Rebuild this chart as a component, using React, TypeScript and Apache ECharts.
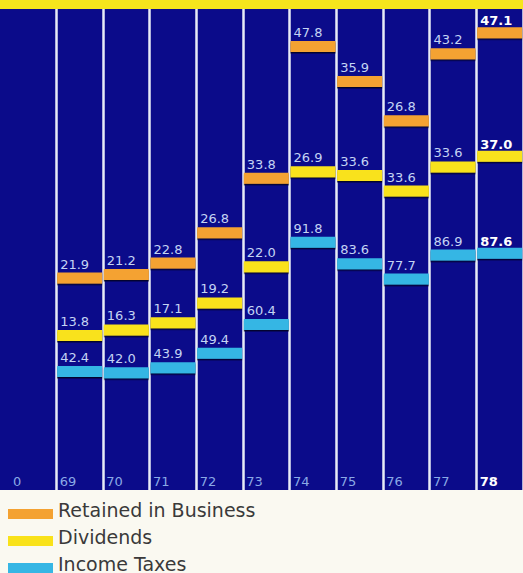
import React, { useEffect, useRef } from "react";
import * as echarts from "echarts";

const years = ["0", "69", "70", "71", "72", "73", "74", "75", "76", "77", "78"];
const incomeTaxes: (number | null)[] = [null, 42.4, 42.0, 43.9, 49.4, 60.4, 91.8, 83.6, 77.7, 86.9, 87.6];
const dividends: (number | null)[] = [null, 13.8, 16.3, 17.1, 19.2, 22.0, 26.9, 33.6, 33.6, 33.6, 37.0];
const retained: (number | null)[] = [null, 21.9, 21.2, 22.8, 26.8, 33.8, 47.8, 35.9, 26.8, 43.2, 47.1];

const seriesNames = ["Retained in Business", "Dividends", "Income Taxes"];
const colors = ["#f4a232", "#f9e21a", "#36b6e4"];

const FONT = "'DejaVu Sans', 'Liberation Sans', Arial, sans-serif";
const DARK = "#0b0b8a";

export default function App() {
  const ref = useRef<HTMLDivElement>(null);

  useEffect(() => {
    document.body.style.margin = "0";
    if (!ref.current) return;
    const chart = echarts.init(ref.current, undefined, { renderer: "svg" });

    const layers = [incomeTaxes, dividends, retained];
    const cum: (number | null)[][] = layers.map(() => []);
    years.forEach((_, i) => {
      let s = 0;
      layers.forEach((arr, k) => {
        const v = arr[i];
        if (v == null) {
          cum[k].push(null);
        } else {
          s += v;
          cum[k].push(Math.round(s * 10) / 10);
        }
      });
    });

    const last = years.length - 1;
    const makeSeries = (name: string, color: string, k: number) => ({
      name,
      type: "scatter",
      symbol: "rect",
      symbolSize: [45, 11],
      itemStyle: {
        color,
        opacity: 1,
        shadowColor: "rgba(0,0,20,0.75)",
        shadowBlur: 0,
        shadowOffsetY: 1.5,
      },
      label: {
        show: true,
        position: [3, -15],
        fontSize: 13,
        lineHeight: 13,
        fontFamily: FONT,
        color: "#c4d4f4",
        formatter: (p: any) => {
          const v = layers[k][p.dataIndex];
          return v == null ? "" : v.toFixed(1);
        },
      },
      emphasis: { disabled: true },
      data: cum[k].map((v, i) =>
        v == null
          ? "-"
          : i === last
          ? { value: v, label: { color: "#ffffff", fontWeight: "bold", position: [3, -13] } }
          : { value: v }
      ),
    });

    chart.setOption({
      animation: false,
      backgroundColor: "#faf9f1",
      graphic: [
        { type: "rect", z: -10, shape: { x: 0, y: 9, width: 523, height: 481 }, style: { fill: DARK } },
        { type: "rect", z: -10, shape: { x: 0, y: 0, width: 523, height: 9 }, style: { fill: "#f6e51c" } },
        { type: "rect", z: 50, shape: { x: 0, y: 9, width: 11, height: 481 }, style: { fill: DARK } },
      ],
      grid: { left: 9.67, right: -7.33, top: 9, bottom: 83 },
      xAxis: {
        type: "category",
        data: years,
        boundaryGap: true,
        axisLine: { show: false },
        axisTick: { show: false },
        splitLine: { show: true, lineStyle: { color: "#e8ecf6", width: 2.5 } },
        axisLabel: {
          inside: true,
          margin: 2,
          interval: 0,
          align: "right",
          formatter: (v: string) => (v === years[last] ? `{b|${v}}` : `{a|${v}}`),
          rich: {
            a: { width: 20, align: "left", fontSize: 13, lineHeight: 13, fontFamily: FONT, color: "#8aa9e6" },
            b: { width: 20, align: "left", fontSize: 13, lineHeight: 13, fontFamily: FONT, color: "#ffffff", fontWeight: "bold" },
          },
        },
      },
      yAxis: { type: "value", min: -2.8, max: 180.8, show: false },
      legend: {
        data: seriesNames,
        orient: "vertical",
        left: 8,
        top: 500,
        height: 100,
        padding: 0,
        icon: "rect",
        itemWidth: 45,
        itemHeight: 10,
        itemGap: 8,
        selectedMode: false,
        formatter: (name: string) => `{t|${name}}`,
        textStyle: {
          fontSize: 19,
          color: "#3a3a3a",
          fontFamily: FONT,
          rich: {
            t: { fontSize: 19, lineHeight: 28, verticalAlign: "top", color: "#3a3a3a", fontFamily: FONT },
          },
        },
      },
      series: [
        makeSeries(seriesNames[0], colors[0], 2),
        makeSeries(seriesNames[1], colors[1], 1),
        makeSeries(seriesNames[2], colors[2], 0),
      ],
    });

    return () => chart.dispose();
  }, []);

  return <div ref={ref} style={{ position: "fixed", left: 0, top: 0, width: 523, height: 573 }} />;
}
